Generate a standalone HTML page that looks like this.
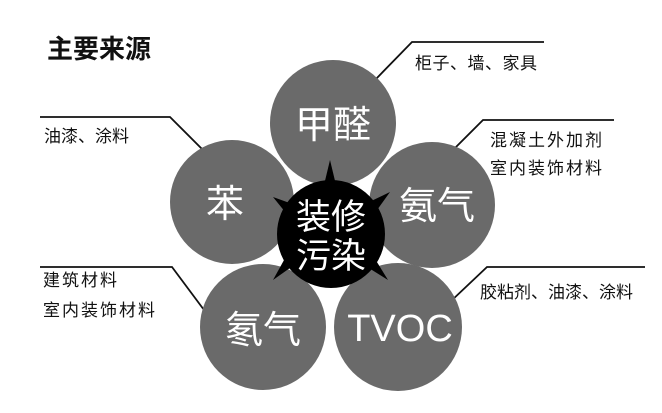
<!DOCTYPE html>
<html><head><meta charset="utf-8"><style>
html,body{margin:0;padding:0;background:#fff;}
svg{display:block;}
text{font-family:"Liberation Sans","Noto Sans CJK SC",sans-serif;}
</style></head><body>
<svg width="662" height="413" viewBox="0 0 662 413" xmlns="http://www.w3.org/2000/svg">
<rect width="662" height="413" fill="#fff"/>
<text x="47" y="58" font-size="26" font-weight="bold" fill="#111">主要来源</text>
<g stroke="#111" stroke-width="1.8" fill="none">
<polyline points="375,80 412,42 544,42"/>
<polyline points="40,117 170,117 208,155"/>
<polyline points="445,158 483,120 614,120"/>
<polyline points="40,267 172,267 210,318"/>
<polyline points="450,302 487,267 645,267"/>
</g>
<g font-size="17" fill="#111">
<text x="415" y="69" letter-spacing="0.5">柜子、墙、家具</text>
<text x="44" y="142">油漆、涂料</text>
<text x="490" y="146" letter-spacing="2">混凝土外加剂</text>
<text x="490" y="174" letter-spacing="2">室内装饰材料</text>
<text x="43" y="286" letter-spacing="2">建筑材料</text>
<text x="43" y="316" letter-spacing="2">室内装饰材料</text>
<text x="480" y="298">胶粘剂、油漆、涂料</text>
</g>
<g fill="#6a6a6a">
<circle cx="333" cy="123" r="63"/>
<circle cx="232" cy="202" r="62"/>
<circle cx="432" cy="205" r="63"/>
<circle cx="263" cy="327" r="63"/>
<circle cx="398" cy="327" r="64"/>
</g>
<g fill="#000">
<polygon points="330,160 324,185 336,185"/>
<polygon points="273,197 290,218 298,206"/>
<polygon points="390,192 365,204 372,217"/>
<polygon points="273,280 297,263 289,251"/>
<polygon points="388,280 372,254 364,265"/>
<circle cx="331" cy="234" r="54"/>
</g>
<g fill="#fff" font-size="38" text-anchor="middle">
<text x="333" y="138">甲醛</text>
<text x="225" y="217">苯</text>
<text x="437" y="219">氨气</text>
<text x="263" y="343">氡气</text>
<text x="400" y="341">TVOC</text>
<text x="331" y="229" font-size="35">装修</text>
<text x="331" y="268" font-size="35">污染</text>
</g>
</svg>
</body></html>
